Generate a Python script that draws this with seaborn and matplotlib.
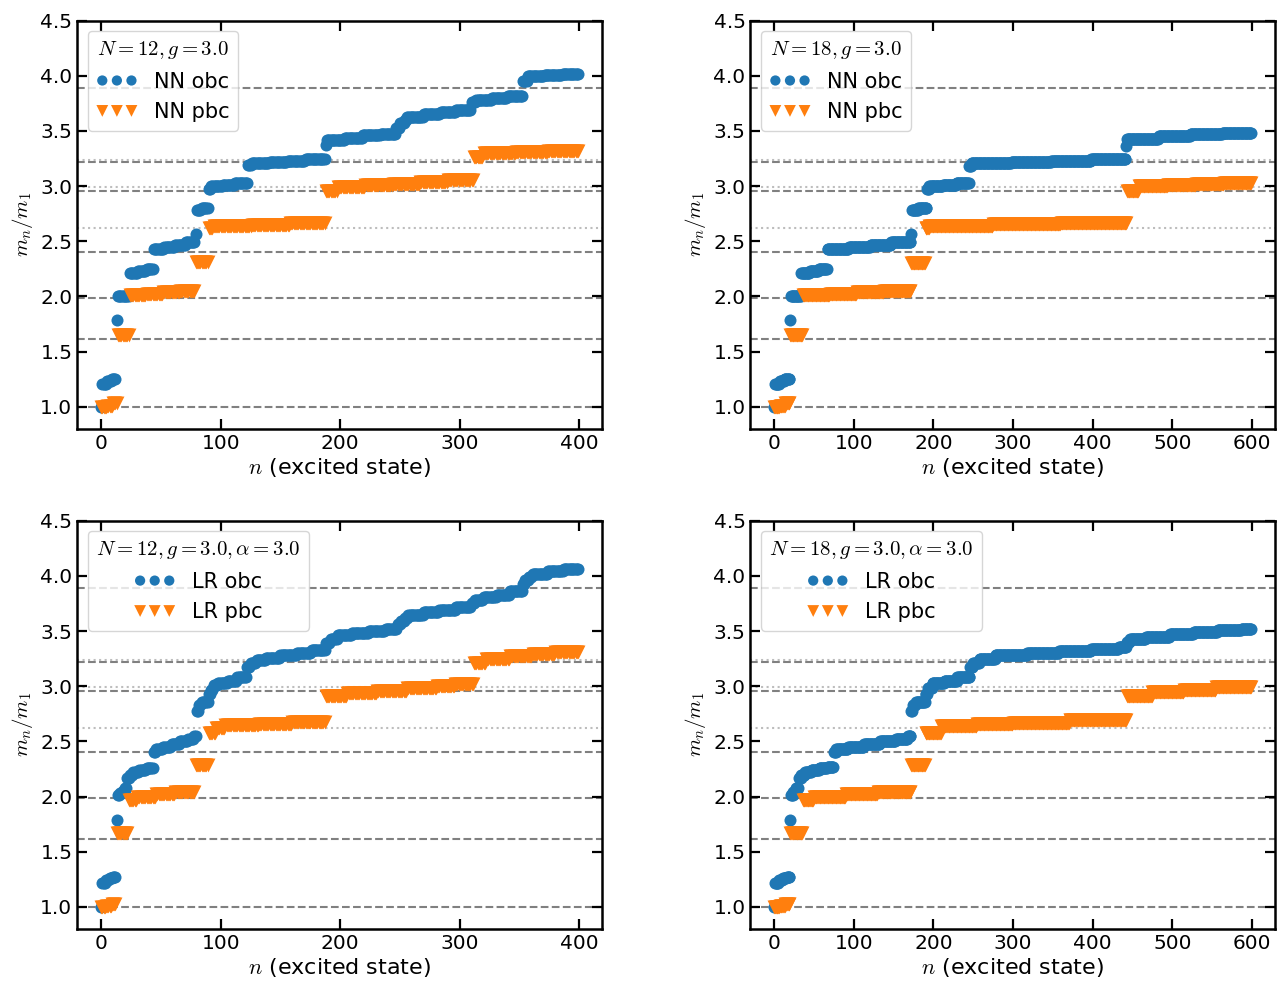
import numpy as np
import matplotlib.pyplot as plt
from matplotlib.ticker import MultipleLocator
import seaborn as sns

plt.rcParams['mathtext.fontset'] = 'cm'

# reference mass ratios (dashed) and two-particle thresholds (dotted)
e8_ratios = [1.0, 1.618, 1.989, 2.405, 2.956, 3.218, 3.891]
threshold_ratios = [2.618, 2.989, 3.236]

# sorted spectra, stored as levels + how many states sit at each level
nn12_obc_vals = [1.00, 1.21, 1.23, 1.25, 1.79, 2.00, 2.21, 2.23, 2.25, 2.43, 2.45, 2.47, 2.49,
                 2.57, 2.78, 2.80, 2.97, 3.00, 3.01, 3.03, 3.19, 3.21, 3.22, 3.23, 3.25, 3.37,
                 3.42, 3.44, 3.46, 3.47, 3.53, 3.57, 3.60, 3.63, 3.65, 3.67, 3.69, 3.76, 3.78,
                 3.80, 3.82, 3.95, 4.00, 4.01, 4.02]
nn12_obc_counts = [1, 4, 4, 4, 1, 10, 7, 7, 6, 9, 9, 9, 8,
                   1, 4, 6, 2, 10, 10, 11, 3, 15, 15, 15, 17, 1,
                   15, 15, 15, 13, 3, 4, 2, 14, 14, 13, 13, 4, 13,
                   13, 13, 4, 14, 15, 14]

nn12_pbc_vals = [1.00, 1.01, 1.03, 1.65, 2.01, 2.02, 2.04, 2.05, 2.31, 2.62, 2.64, 2.65, 2.67,
                 2.96, 2.99, 3.01, 3.02, 3.04, 3.06, 3.26, 3.30, 3.31, 3.32]
nn12_pbc_counts = [5, 5, 4, 10, 14, 14, 14, 13, 11, 4, 32, 32, 30,
                   10, 23, 23, 23, 23, 22, 8, 27, 27, 26]

nn18_obc_vals = [1.00, 1.21, 1.23, 1.25, 1.79, 2.00, 2.21, 2.23, 2.25, 2.43, 2.45, 2.47, 2.49,
                 2.57, 2.78, 2.80, 2.97, 3.00, 3.01, 3.03, 3.18, 3.21, 3.22, 3.23, 3.25, 3.36,
                 3.43, 3.45, 3.47, 3.48]
nn18_obc_counts = [1, 6, 6, 7, 1, 13, 11, 11, 11, 27, 27, 26, 25,
                   1, 8, 11, 3, 17, 17, 16, 3, 50, 50, 50, 44, 1,
                   40, 40, 40, 37]

nn18_pbc_vals = [1.00, 1.01, 1.03, 1.65, 2.01, 2.02, 2.04, 2.05, 2.30, 2.62, 2.64, 2.66, 2.67,
                 2.96, 3.00, 3.01, 3.02, 3.03]
nn18_pbc_counts = [7, 7, 6, 16, 34, 34, 34, 34, 18, 5, 80, 85, 83,
                   15, 36, 36, 35, 35]

lr12_obc_vals = [1.00, 1.22, 1.24, 1.26, 1.27, 1.79, 2.01, 2.03, 2.05, 2.08, 2.17, 2.20, 2.22,
                 2.24, 2.26, 2.40, 2.43, 2.45, 2.48, 2.50, 2.52, 2.55, 2.78, 2.83, 2.86, 2.93,
                 2.97, 3.01, 3.03, 3.05, 3.08, 3.17, 3.21, 3.24, 3.26, 3.28, 3.30, 3.33, 3.39,
                 3.43, 3.46, 3.48, 3.50, 3.52, 3.56, 3.59, 3.62, 3.65, 3.67, 3.69, 3.72, 3.75,
                 3.78, 3.81, 3.83, 3.86, 3.93, 3.96, 3.99, 4.02, 4.04, 4.06]
lr12_obc_counts = [1, 3, 3, 3, 3, 1, 2, 2, 2, 2, 2, 3, 5,
                   6, 6, 2, 6, 7, 7, 7, 5, 2, 2, 2, 6, 2,
                   2, 4, 8, 8, 8, 3, 5, 8, 12, 14, 12, 12, 4,
                   6, 12, 14, 14, 10, 3, 3, 3, 13, 13, 14, 13, 3,
                   7, 11, 11, 11, 2, 3, 3, 13, 13, 13]

lr12_pbc_vals = [1.00, 1.01, 1.03, 1.67, 1.97, 2.00, 2.02, 2.04, 2.29, 2.58, 2.62, 2.65, 2.66,
                 2.68, 2.91, 2.94, 2.96, 2.98, 3.00, 3.02, 3.21, 3.25, 3.27, 3.29, 3.31]
lr12_pbc_counts = [4, 5, 4, 10, 7, 16, 16, 17, 11, 6, 8, 28, 28,
                   28, 18, 25, 25, 25, 15, 16, 10, 20, 19, 19, 20]

lr18_obc_vals = [1.00, 1.22, 1.24, 1.26, 1.27, 1.79, 2.01, 2.04, 2.08, 2.17, 2.20, 2.22, 2.24,
                 2.26, 2.27, 2.40, 2.43, 2.45, 2.48, 2.50, 2.52, 2.55, 2.78, 2.83, 2.86, 2.93,
                 2.98, 3.03, 3.05, 3.08, 3.17, 3.21, 3.25, 3.28, 3.30, 3.32, 3.34, 3.36, 3.40,
                 3.43, 3.45, 3.47, 3.49, 3.51, 3.52]
lr18_obc_counts = [1, 5, 5, 5, 4, 1, 3, 3, 4, 3, 5, 8, 10,
                   10, 8, 3, 15, 20, 20, 20, 15, 4, 2, 4, 12, 3,
                   6, 15, 16, 16, 4, 8, 20, 40, 40, 40, 35, 10, 4,
                   20, 30, 30, 30, 30, 13]

lr18_pbc_vals = [1.00, 1.01, 1.03, 1.67, 1.97, 2.00, 2.02, 2.04, 2.29, 2.58, 2.64, 2.66, 2.67,
                 2.69, 2.91, 2.95, 2.97, 2.99]
lr18_pbc_counts = [7, 7, 6, 16, 14, 40, 40, 42, 18, 20, 45, 45, 71,
                   72, 32, 40, 40, 45]

panels = [
    (nn12_obc_vals, nn12_obc_counts, nn12_pbc_vals, nn12_pbc_counts, r'$N=12, g=3.0$', 'NN'),
    (nn18_obc_vals, nn18_obc_counts, nn18_pbc_vals, nn18_pbc_counts, r'$N=18, g=3.0$', 'NN'),
    (lr12_obc_vals, lr12_obc_counts, lr12_pbc_vals, lr12_pbc_counts, r'$N=12, g=3.0, \alpha=3.0$', 'LR'),
    (lr18_obc_vals, lr18_obc_counts, lr18_pbc_vals, lr18_pbc_counts, r'$N=18, g=3.0, \alpha=3.0$', 'LR'),
]

fig, axes = plt.subplots(2, 2, figsize=(12.84, 9.82), dpi=100)
fig.subplots_adjust(left=0.0602, right=0.993, top=0.979, bottom=0.054, wspace=0.283, hspace=0.225)

for ax, (ov, oc, pv, pc, title, kind) in zip(axes.flat, panels):
    obc = np.repeat(ov, oc)
    pbc = np.repeat(pv, pc)

    for y in e8_ratios:
        ax.axhline(y, color='gray', ls='--', lw=1.5, zorder=1)
    for y in threshold_ratios:
        ax.axhline(y, color='#bdbdbd', ls=':', lw=1.5, zorder=1)

    sns.scatterplot(x=np.arange(len(obc)), y=obc, ax=ax, color='C0', marker='o',
                    s=75, linewidth=0, label=f'{kind} obc', zorder=3)
    sns.scatterplot(x=np.arange(len(pbc)), y=pbc, ax=ax, color='C1', marker='v',
                    s=100, linewidth=0, label=f'{kind} pbc', zorder=3)

    ax.set_ylim(0.8, 4.5)
    ax.set_yticks(np.arange(1.0, 4.51, 0.5))
    ax.xaxis.set_major_locator(MultipleLocator(100))
    ax.tick_params(direction='in', top=True, right=True, length=7, width=1.6, labelsize=14.5)
    for sp in ax.spines.values():
        sp.set_linewidth(1.8)
    ax.set_xlabel('$n$ (excited state)', fontsize=16, labelpad=2)
    ax.set_ylabel('$m_n/m_1$', fontsize=15)
    ax.legend(title=title, loc='upper left', scatterpoints=3, scatteryoffsets=[0.5],
              fontsize=15, title_fontsize=15, markerscale=0.85)

plt.savefig('out.png', dpi=100)
